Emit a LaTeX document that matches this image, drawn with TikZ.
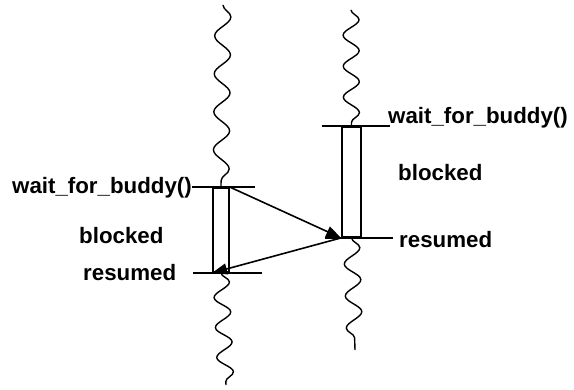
\documentclass[tikz,border=0pt]{standalone}
\usepackage{fontspec}
\setmainfont{Liberation Sans}
\usetikzlibrary{arrows.meta,decorations.pathmorphing}
\begin{document}
\begin{tikzpicture}[x=1pt,y=-1pt]

\tikzset{line/.style={draw,line width=1.6pt}}
\tikzset{arrow/.style={line,-{Triangle[length=15pt,width=11pt]}}}
\tikzset{wave/.style={draw,line width=1.4pt,decorate,decoration={snake,amplitude=8pt,segment length=#1}}}
\tikzset{bar/.style={draw,line width=1.8pt,inner sep=0pt}}
\tikzset{tag/.style={font=\fontsize{22.3}{26}\selectfont\bfseries,inner sep=0pt}}

\useasboundingbox (0,0) rectangle (574,389);

\node[bar,minimum width=16pt,minimum height=84pt] (boxA) at (221,230) {};
\node[bar,minimum width=19pt,minimum height=110pt] (boxB) at (351.5,182) {};

\coordinate (Atop) at (223,5);
\coordinate (Abot) at (226,385);
\coordinate (Btop) at (351,10);
\coordinate (Bbot) at (355,350);

\path[wave=38pt] (Atop) to (boxA.north);
\path[wave=30pt] (boxA.south) to (Abot);
\path[wave=31pt] (Btop) to (boxB.north);
\path[wave=32pt] (boxB.south) to (Bbot);

\path[line] ([xshift=-29pt]boxA.north) to ([xshift=34pt]boxA.north);
\path[line] ([xshift=-28pt]boxA.south) to ([xshift=41pt]boxA.south);
\path[line] ([xshift=-30pt]boxB.north) to ([xshift=38pt]boxB.north);
\path[line] ([xshift=-27pt]boxB.south) to ([xshift=41pt]boxB.south);

\path[arrow] (boxA.north east) to (boxB.south west);
\path[arrow] (boxB.south west) to (boxA.south west);

\node[tag,anchor=base east] (callA) at (192,193) {wait\_for\_buddy()};
\node[tag,anchor=base west] (blockA) at (79,243) {blocked};
\node[tag,anchor=base west] (resumeA) at (83,280) {resumed};
\node[tag,anchor=base west] (callB) at (388,123) {wait\_for\_buddy()};
\node[tag,anchor=base west] (blockB) at (398,180) {blocked};
\node[tag,anchor=base west] (resumeB) at (399,247) {resumed};

\end{tikzpicture}
\end{document}
